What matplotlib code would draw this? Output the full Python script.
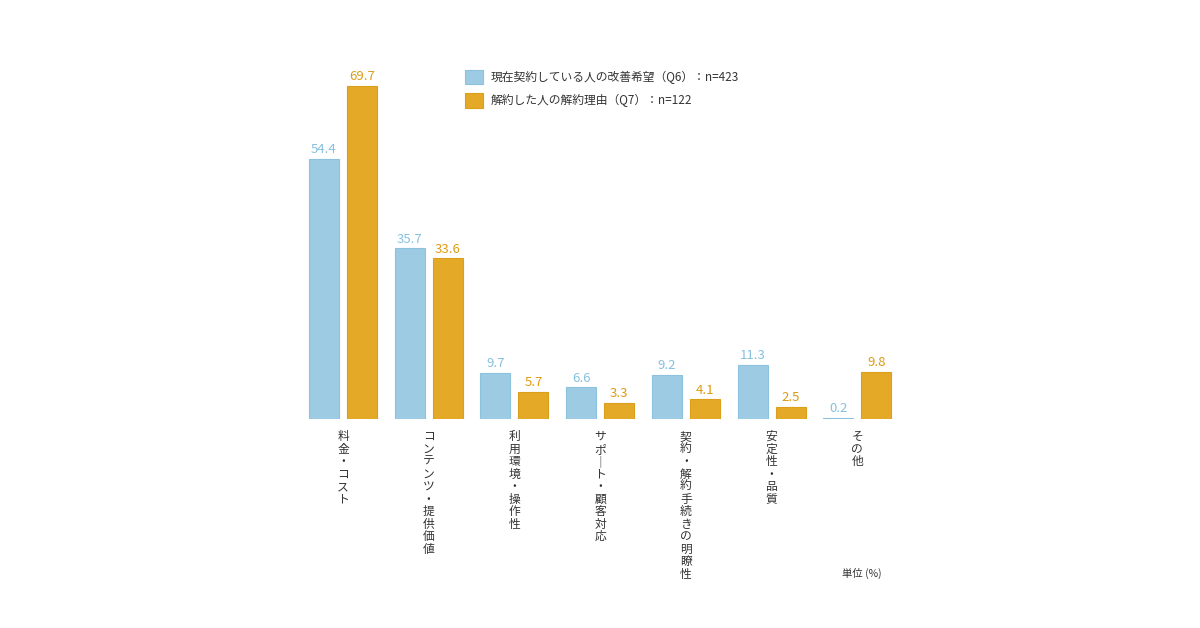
import matplotlib
matplotlib.use("Agg")
import matplotlib.pyplot as plt
import numpy as np

plt.rcParams['font.family'] = ['Noto Sans CJK JP', 'DejaVu Sans']

categories = ["料金・コスト", "コンテンツ・提供価値", "利用環境・操作性", "サポート・顧客対応",
              "契約・解約手続きの明瞭性", "安定性・品質", "その他"]
current = [54.4, 35.7, 9.7, 6.6, 9.2, 11.3, 0.2]
cancelled = [69.7, 33.6, 5.7, 3.3, 4.1, 2.5, 9.8]
series_names = ["現在契約している人の改善希望（Q6）：n=423", "解約した人の解約理由（Q7）：n=122"]

BLUE = "#9dcbe3"
BLUE_EDGE = "#8cc2de"
BLUE_TXT = "#86c0de"
ORANGE = "#e5a928"
ORANGE_EDGE = "#dc9f1c"
ORANGE_TXT = "#de9b12"

W, H = 1200, 628
fig = plt.figure(figsize=(W / 100, H / 100), dpi=100)
fig.patch.set_facecolor("white")

# axes placed in pixel terms: baseline at y=419, ~4.78 px per percent
px_per_unit = 4.78
ymax = 75
ax = fig.add_axes([290 / W, (H - 419) / H, 620 / W, ymax * px_per_unit / H])
x = np.arange(len(categories))
step = 85.7
ax.set_xlim((290 - 343) / step, (910 - 343) / step)
ax.set_ylim(0, ymax)
ax.axis("off")

bw = 30 / step
off = 19 / step
b1 = ax.bar(x - off, current, bw, color=BLUE, edgecolor=BLUE_EDGE, linewidth=0.8, label=series_names[0])
b2 = ax.bar(x + off, cancelled, bw, color=ORANGE, edgecolor=ORANGE_EDGE, linewidth=0.8, label=series_names[1])

for xi, v in zip(x - off, current):
    ax.annotate(f"{v:.1f}", (xi, v), xytext=(0, 2), textcoords="offset points",
                ha="center", va="bottom", fontsize=9.5, color=BLUE_TXT)
for xi, v in zip(x + off, cancelled):
    ax.annotate(f"{v:.1f}", (xi, v), xytext=(0, 2), textcoords="offset points",
                ha="center", va="bottom", fontsize=9.5, color=ORANGE_TXT)

# vertical category labels (one character per line)
for xi, cat in zip(x, categories):
    txt = "\n".join("｜" if c == "ー" else c for c in cat)
    ax.annotate(txt, (xi, 0), xytext=(0, -8), textcoords="offset points",
                ha="center", va="top", fontsize=8.5, color="#333333",
                linespacing=0.95, annotation_clip=False)

fig.text(862 / W, 1 - 573 / H, "単位 (%)", ha="center", va="center", fontsize=7.5, color="#333333")

leg = fig.legend(handles=[b1, b2], loc="upper left", bbox_to_anchor=(465 / W, 1 - 70 / H),
                 frameon=False, fontsize=8.5, handlelength=1.5, handleheight=1.5,
                 handletextpad=0.65, labelspacing=0.75, borderpad=0, borderaxespad=0)
for t in leg.get_texts():
    t.set_color("#333333")

fig.savefig("out.png", dpi=100, facecolor="white")
